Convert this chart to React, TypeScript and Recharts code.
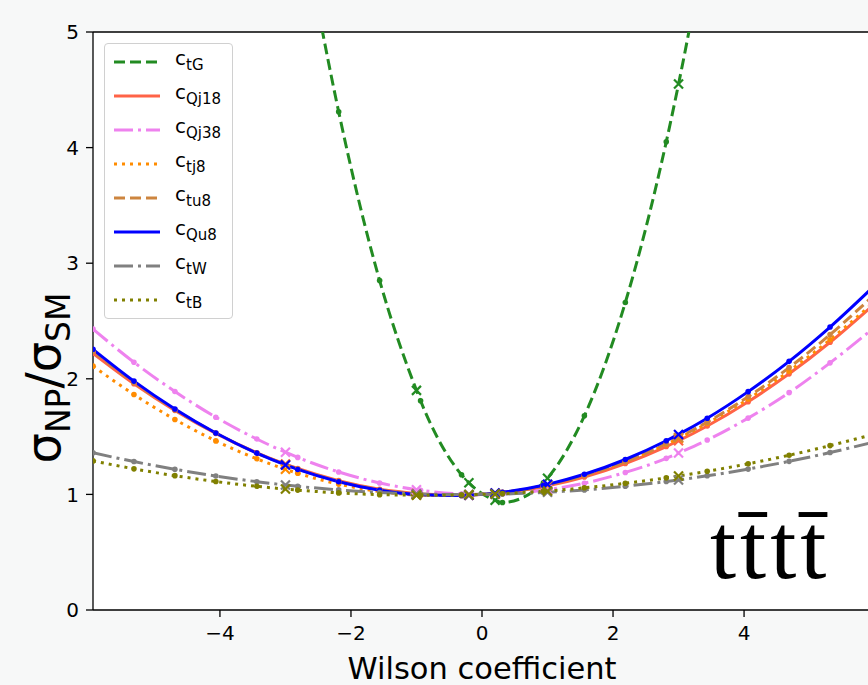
import React from "react";
import { CartesianGrid, Line, LineChart, ReferenceLine, XAxis, YAxis } from "recharts";

// Wilson coefficient sample points (grid + simulated points at -3, -1, -0.2, 0.2, 1, 3)
const X_VALUES = [
  -5.9375, -5.3125, -4.6875, -4.0625, -3.4375, -3, -2.8125, -2.1875, -1.5625, -1, -0.9375, -0.3125, -0.2,
  0.2, 0.3125, 0.9375, 1, 1.5625, 2.1875, 2.8125, 3, 3.4375, 4.0625, 4.6875, 5.3125, 5.9375,
];
const CROSS_X = [-3, -1, -0.2, 0.2, 1, 3];

const C_TG = [
  null, null, null, null, null, 6.81, 6.18, 4.31, 2.85, 1.9, 1.81, 1.17, 1.1,
  0.95, 0.93, 1.1, 1.14, 1.68, 2.66, 4.05, 4.55, 5.85, null, null, null, null,
];
const C_QJ18 = [
  2.221, 1.958, 1.727, 1.528, 1.36, 1.262, 1.224, 1.119, 1.045, 1.007, 1.003, 0.993, 0.995,
  1.008, 1.015, 1.067, 1.074, 1.151, 1.267, 1.414, 1.464, 1.592, 1.802, 2.043, 2.316, 2.621,
];
const C_QJ38 = [
  2.43, 2.143, 1.89, 1.668, 1.479, 1.365, 1.32, 1.194, 1.099, 1.041, 1.036, 1.004, 1.002,
  1.002, 1.004, 1.035, 1.04, 1.097, 1.19, 1.312, 1.358, 1.47, 1.66, 1.88, 2.138, 2.42,
];
const C_TJ8 = [
  2.11, 1.864, 1.648, 1.463, 1.308, 1.217, 1.183, 1.089, 1.025, 0.994, 0.992, 0.99, 0.993,
  1.01, 1.018, 1.076, 1.084, 1.165, 1.285, 1.433, 1.485, 1.614, 1.825, 2.066, 2.338, 2.64,
];
const C_TU8 = [
  2.238, 1.969, 1.733, 1.53, 1.358, 1.259, 1.22, 1.114, 1.04, 1.003, 1.0, 0.991, 0.994,
  1.01, 1.016, 1.073, 1.081, 1.162, 1.284, 1.439, 1.492, 1.625, 1.845, 2.097, 2.382, 2.7,
];
const C_QU8 = [
  2.255, 1.98, 1.739, 1.531, 1.357, 1.255, 1.216, 1.11, 1.036, 0.999, 0.997, 0.99, 0.993,
  1.011, 1.018, 1.079, 1.087, 1.174, 1.302, 1.464, 1.519, 1.659, 1.889, 2.151, 2.448, 2.777,
];
const C_TW = [
  1.36, 1.284, 1.217, 1.159, 1.11, 1.081, 1.07, 1.039, 1.017, 1.004, 1.003, 0.999, 0.999,
  1.002, 1.003, 1.017, 1.019, 1.039, 1.071, 1.111, 1.125, 1.161, 1.219, 1.286, 1.362, 1.447,
];
const C_TB = [
  1.29, 1.221, 1.162, 1.111, 1.07, 1.046, 1.037, 1.013, 0.998, 0.993, 0.992, 0.995, 0.997,
  1.004, 1.007, 1.028, 1.03, 1.057, 1.096, 1.143, 1.16, 1.2, 1.265, 1.339, 1.422, 1.514,
];

const X_TICKS = [-4, -2, 0, 2, 4];
const Y_TICKS = [0, 1, 2, 3, 4, 5];

const series = [
  { key: "ctG", sub: "tG", values: C_TG, color: "#228b22", dash: "11 5" },
  { key: "cQj18", sub: "Qj18", values: C_QJ18, color: "#ff6347", dash: undefined },
  { key: "cQj38", sub: "Qj38", values: C_QJ38, color: "#ee82ee", dash: "19 5 3 5" },
  { key: "ctj8", sub: "tj8", values: C_TJ8, color: "#ff8c00", dash: "3 5" },
  { key: "ctu8", sub: "tu8", values: C_TU8, color: "#cd853f", dash: "11 5" },
  { key: "cQu8", sub: "Qu8", values: C_QU8, color: "#0000ff", dash: undefined },
  { key: "ctW", sub: "tW", values: C_TW, color: "#808080", dash: "19 5 3 5" },
  { key: "ctB", sub: "tB", values: C_TB, color: "#808000", dash: "3 5" },
];

const rows = X_VALUES.map((x, i) => {
  const row: Record<string, number | null> = { x };
  series.forEach((s) => {
    row[s.key] = s.values[i];
  });
  return row;
});

const fmt = (v: number) => String(v).replace("-", "\u2212");

function makeDot(color: string) {
  return (props: any) => {
    const { cx, cy, payload, index } = props;
    if (cy == null || cx == null || payload[props.dataKey] == null) return <g key={index} />;
    if (CROSS_X.includes(payload.x)) {
      const d = 4.5;
      return (
        <g key={index} stroke={color} strokeWidth={2.2}>
          <line x1={cx - d} y1={cy - d} x2={cx + d} y2={cy + d} />
          <line x1={cx - d} y1={cy + d} x2={cx + d} y2={cy - d} />
        </g>
      );
    }
    return <circle key={index} cx={cx} cy={cy} r={2.8} fill={color} stroke="none" />;
  };
}

function LegendBox() {
  return (
    <div
      style={{
        position: "absolute",
        left: 104,
        top: 43,
        width: 127,
        height: 274,
        border: "1px solid #d0d0d0",
        borderRadius: 4,
        background: "rgba(255,255,255,0.85)",
      }}
    >
      {series.map((s, i) => (
        <div key={s.key} style={{ position: "absolute", left: 0, top: 18 + i * 34 - 14, height: 28, width: 127 }}>
          <svg width={48} height={28} style={{ position: "absolute", left: 8, top: 0 }}>
            <line x1={1} y1={14} x2={47} y2={14} stroke={s.color} strokeWidth={3} strokeDasharray={s.dash} />
          </svg>
          <div
            style={{
              position: "absolute",
              left: 70,
              top: -1,
              fontSize: 20,
              lineHeight: "22px",
              whiteSpace: "nowrap",
              color: "#000",
            }}
          >
            c<span style={{ fontSize: 15, position: "relative", top: 5 }}>{s.sub}</span>
          </div>
        </div>
      ))}
    </div>
  );
}

export default function App() {
  return (
    <div
      style={{
        position: "absolute",
        left: 0,
        top: 0,
        width: 868,
        height: 685,
        overflow: "hidden",
        background: "#f7f8f8",
        fontFamily: "'DejaVu Sans', sans-serif",
      }}
    >
      <LineChart width={871} height={685} data={rows} margin={{ top: 32, right: 0, bottom: 0, left: 0 }}>
        <CartesianGrid fill="#ffffff" horizontal={false} vertical={false} />
        <XAxis
          type="number"
          dataKey="x"
          domain={[-5.9375, 5.9375]}
          allowDataOverflow
          ticks={X_TICKS}
          tickFormatter={fmt}
          height={75}
          tickSize={7}
          tickMargin={9}
          stroke="#000"
          strokeWidth={1.3}
          tick={{ fill: "#000", fontSize: 20 }}
          label={{ value: "Wilson coefficient", position: "insideBottom", offset: 6, fontSize: 30.5, fill: "#000" }}
        />
        <YAxis
          type="number"
          domain={[0, 5]}
          allowDataOverflow
          ticks={Y_TICKS}
          width={93}
          tickSize={7}
          tickMargin={7}
          stroke="#000"
          strokeWidth={1.3}
          tick={{ fill: "#000", fontSize: 20 }}
        />
        <ReferenceLine y={5} stroke="#000" strokeWidth={1.3} />
        {series.map((s) => (
          <Line
            key={s.key}
            dataKey={s.key}
            type="monotone"
            stroke={s.color}
            strokeWidth={3}
            strokeDasharray={s.dash}
            dot={makeDot(s.color)}
            activeDot={false}
            isAnimationActive={false}
          />
        ))}
      </LineChart>
      <LegendBox />
      <div
        style={{
          position: "absolute",
          left: 43,
          top: 378,
          transform: "translate(-50%, -50%) rotate(-90deg)",
          whiteSpace: "nowrap",
          fontSize: 48,
          color: "#000",
        }}
      >
        σ<span style={{ fontSize: 33, position: "relative", top: 10 }}>NP</span>/σ
        <span style={{ fontSize: 33, position: "relative", top: 10 }}>SM</span>
      </div>
      <svg width={868} height={685} style={{ position: "absolute", left: 0, top: 0, pointerEvents: "none" }}>
        <text
          x={710}
          y={578}
          fontFamily="'Liberation Serif', serif"
          fontSize={94}
          letterSpacing={4}
          fill="#000"
        >
          {"tt\u0304tt\u0304"}
        </text>
      </svg>
    </div>
  );
}
